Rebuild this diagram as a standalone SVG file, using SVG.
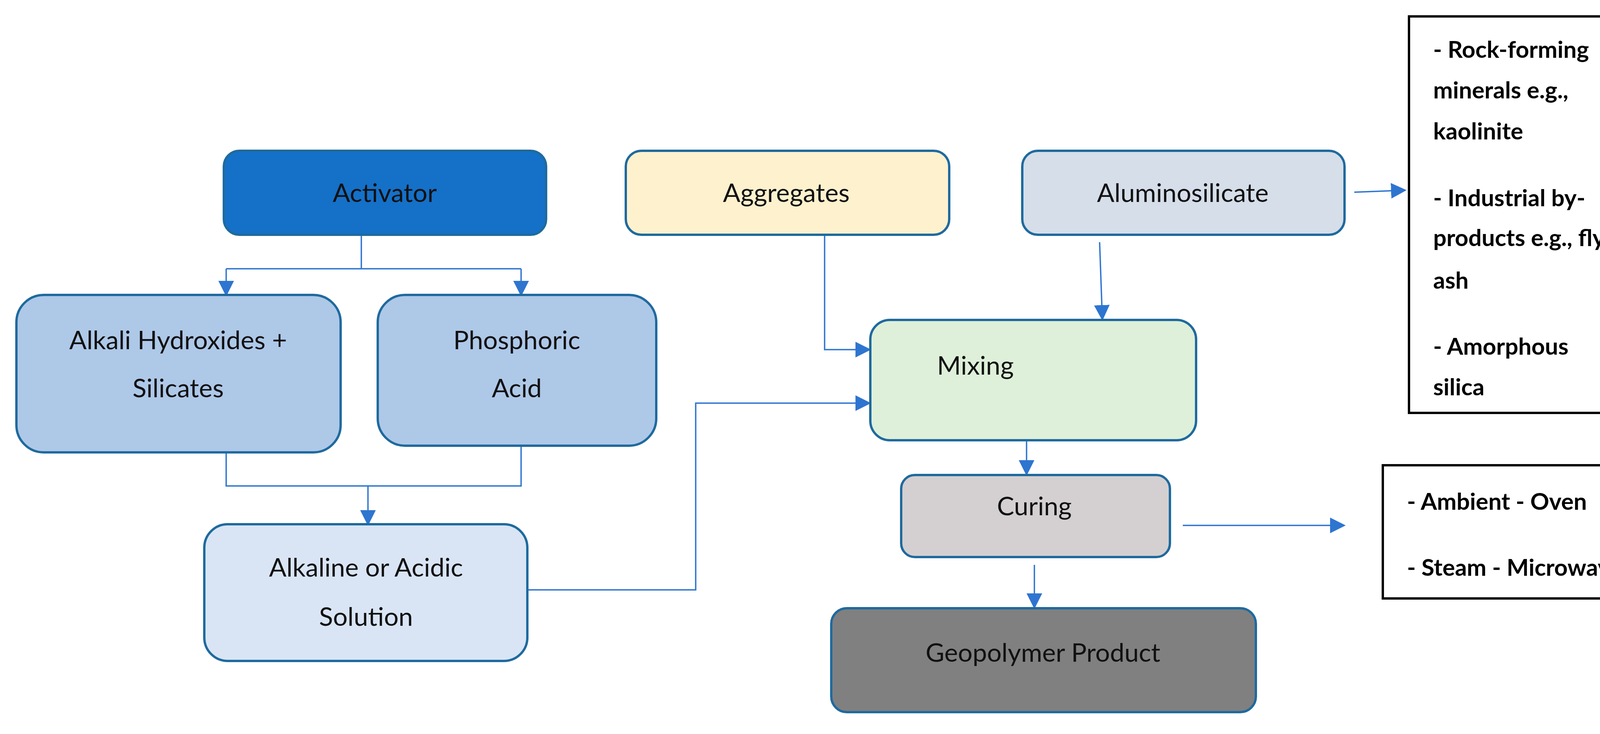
<svg xmlns="http://www.w3.org/2000/svg" width="4384" height="1879" viewBox="0 0 4384 1879">
<defs>
<marker id="ah" viewBox="0 0 10 10" refX="9" refY="5" markerWidth="40" markerHeight="40" markerUnits="userSpaceOnUse" orient="auto"><path d="M0,0 L10,5 L0,10 z" fill="#2E75D0"/></marker>
<style>
.n{stroke:#1F6A9E;stroke-width:6}
.t{font-family:Lato,"Liberation Sans",sans-serif;font-size:66px;fill:#111;text-anchor:middle}
.b{font-family:Lato,"Liberation Sans",sans-serif;font-size:60px;font-weight:bold;fill:#000}
.c{fill:none;stroke:#2E75D0;stroke-width:3.5}
.a{marker-end:url(#ah)}
.bx{fill:#fff;stroke:#000;stroke-width:6}
</style>
</defs>
<rect width="4384" height="1879" fill="#fff"/>
<g id="connectors">
<path class="c" d="M925,601 V688 M579,688 H1334"/>
<path class="c a" d="M579,688 V755"/>
<path class="c a" d="M1334,688 V755"/>
<path class="c" d="M579,1158 V1244 H1334 V1141"/>
<path class="c a" d="M942,1244 V1342"/>
<path class="c a" d="M1350,1510 H1781 V1032 H2226"/>
<path class="c a" d="M2111,601 V895 H2226"/>
<path class="c a" d="M2815,620 L2822,817"/>
<path class="c a" d="M3467,492 L3597,487"/>
<path class="c a" d="M2628,1127 V1214"/>
<path class="c a" d="M2648,1446 V1555"/>
<path class="c a" d="M3028,1345 H3441"/>
</g>
<g id="activator"><rect class="n" x="573" y="386" width="825" height="215" rx="40" fill="#1570C8"/><text class="t" x="985" y="517">Activator</text></g>
<g id="alkali"><rect class="n" x="42" y="755" width="830" height="403" rx="70" fill="#AEC8E8"/><text class="t" x="456" y="894">Alkali Hydroxides +</text><text class="t" x="456" y="1017">Silicates</text></g>
<g id="phosphoric"><rect class="n" x="967" y="755" width="713" height="386" rx="70" fill="#AEC8E8"/><text class="t" x="1323" y="894">Phosphoric</text><text class="t" x="1323" y="1017">Acid</text></g>
<g id="solution"><rect class="n" x="523" y="1342" width="827" height="350" rx="60" fill="#D9E5F5"/><text class="t" x="937" y="1476">Alkaline or Acidic</text><text class="t" x="937" y="1602">Solution</text></g>
<g id="aggregates"><rect class="n" x="1602" y="386" width="828" height="215" rx="40" fill="#FEF1CE"/><text class="t" x="2013" y="517">Aggregates</text></g>
<g id="aluminosilicate"><rect class="n" x="2617" y="386" width="825" height="215" rx="40" fill="#D5DEE9"/><text class="t" x="3028" y="517">Aluminosilicate</text></g>
<g id="mixing"><rect class="n" x="2228" y="819" width="834" height="308" rx="50" fill="#DEF0D9"/><text class="t" x="2497" y="959">Mixing</text></g>
<g id="curing"><rect class="n" x="2307" y="1216" width="688" height="210" rx="35" fill="#D4D0D1"/><text class="t" x="2648" y="1319">Curing</text></g>
<g id="geopolymer"><rect class="n" x="2128" y="1557" width="1087" height="266" rx="40" fill="#808080"/><text class="t" x="2670" y="1694">Geopolymer Product</text></g>
<g id="materials"><rect class="bx" x="3607" y="42" width="721" height="1015"/>
<text class="b" x="3669" y="148">- Rock-forming</text><text class="b" x="3669" y="252">minerals e.g.,</text><text class="b" x="3669" y="357">kaolinite</text>
<text class="b" x="3669" y="528">- Industrial by-</text><text class="b" x="3669" y="630">products e.g., fly</text><text class="b" x="3669" y="739">ash</text>
<text class="b" x="3669" y="908">- Amorphous</text><text class="b" x="3669" y="1012">silica</text></g>
<g id="curing-methods"><rect class="bx" x="3540" y="1191" width="802" height="341"/>
<text class="b" x="3602" y="1305">- Ambient - Oven</text><text class="b" x="3602" y="1474">- Steam - Microwave</text></g>
</svg>
